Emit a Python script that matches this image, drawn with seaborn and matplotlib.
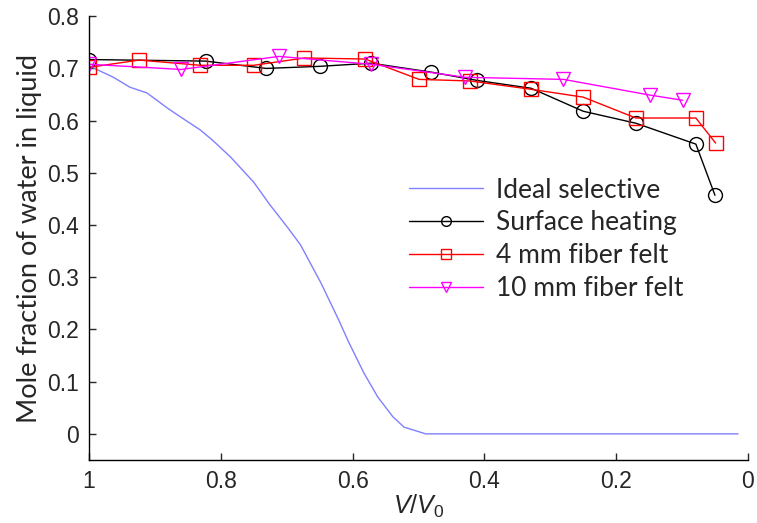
import matplotlib
matplotlib.use("Agg")
import matplotlib.pyplot as plt
import seaborn as sns
import pandas as pd

# Ideal selective (blue curve)
ideal_x = [1.0, 0.963, 0.938, 0.912, 0.881, 0.861, 0.831, 0.813, 0.785, 0.750, 0.725,
           0.699, 0.679, 0.648, 0.621, 0.606, 0.583, 0.562, 0.539, 0.522, 0.489, 0.015]
ideal_y = [0.705, 0.683, 0.664, 0.653, 0.624, 0.607, 0.582, 0.563, 0.530, 0.482, 0.438,
           0.396, 0.362, 0.289, 0.218, 0.176, 0.117, 0.071, 0.033, 0.013, 0.0, 0.0]

# Surface heating
surf_x = [1.0, 0.823, 0.731, 0.650, 0.572, 0.481, 0.411, 0.329, 0.250, 0.170, 0.079, 0.050]
surf_y = [0.717, 0.714, 0.700, 0.704, 0.710, 0.693, 0.677, 0.662, 0.618, 0.595, 0.555, 0.457]

# 4 mm fiber felt
felt4_x = [1.0, 0.924, 0.831, 0.750, 0.673, 0.581, 0.499, 0.422, 0.329, 0.250, 0.170, 0.079, 0.049]
felt4_y = [0.702, 0.716, 0.706, 0.706, 0.720, 0.718, 0.679, 0.676, 0.660, 0.645, 0.605, 0.605, 0.557]

# 10 mm fiber felt
felt10_x = [1.0, 0.860, 0.712, 0.572, 0.429, 0.280, 0.149, 0.099]
felt10_y = [0.708, 0.698, 0.723, 0.708, 0.683, 0.679, 0.649, 0.639]

labels = ["Ideal selective", "Surface heating", "4 mm fiber felt", "10 mm fiber felt"]

sns.set_style("white")
plt.rcParams['font.family'] = ['Liberation Sans', 'DejaVu Sans']
plt.rcParams['mathtext.fontset'] = 'custom'
plt.rcParams['mathtext.rm'] = 'Liberation Sans'
plt.rcParams['mathtext.it'] = 'Liberation Sans:italic'

fig = plt.figure(figsize=(7.57, 5.23), dpi=100)
ax = fig.add_axes([0.1176, 0.1205, 0.8704, 0.8485])

sns.lineplot(x=ideal_x, y=ideal_y, ax=ax, sort=False, color="#8080ff", lw=1.0,
             label=labels[0], estimator=None)
sns.lineplot(x=surf_x, y=surf_y, ax=ax, sort=False, color="black", lw=1.0,
             marker="o", markersize=10, markerfacecolor="none", markeredgecolor="black",
             markeredgewidth=1.0, label=labels[1], estimator=None)
sns.lineplot(x=felt4_x, y=felt4_y, ax=ax, sort=False, color="red", lw=1.0,
             marker="s", markersize=10, markerfacecolor="none", markeredgecolor="red",
             markeredgewidth=1.0, label=labels[2], estimator=None)
sns.lineplot(x=felt10_x, y=felt10_y, ax=ax, sort=False, color="magenta", lw=1.0,
             marker="v", markersize=10, markerfacecolor="none", markeredgecolor="magenta",
             markeredgewidth=1.0, label=labels[3], estimator=None)

ax.set_xlim(1, 0)
ax.set_ylim(-0.05, 0.8)
ax.set_xticks([1, 0.8, 0.6, 0.4, 0.2, 0])
ax.set_xticklabels(["1", "0.8", "0.6", "0.4", "0.2", "0"])
ax.set_yticks([0, 0.1, 0.2, 0.3, 0.4, 0.5, 0.6, 0.7, 0.8])
ax.set_yticklabels(["0", "0.1", "0.2", "0.3", "0.4", "0.5", "0.6", "0.7", "0.8"])
ax.tick_params(axis="both", direction="in", length=5, width=1, labelsize=16.5,
               left=True, bottom=True, pad=7)
for s in ["top", "right"]:
    ax.spines[s].set_visible(False)
for s in ["left", "bottom"]:
    ax.spines[s].set_color("black")
    ax.spines[s].set_linewidth(1.0)

ax.set_ylabel("Mole fraction of water in liquid", fontsize=19.5,
              family=["Lato", "DejaVu Sans"], labelpad=4)
ax.set_xlabel(r"$\mathit{V}/\mathit{V}_0$", fontsize=18, labelpad=0)

leg = ax.legend(loc="upper left", bbox_to_anchor=(0.45, 0.69), frameon=False,
                prop={"family": "Lato", "size": 19}, handlelength=2.8, labelspacing=0.3,
                handletextpad=0.5)
for h in leg.legend_handles:
    h.set_markersize(7)

fig.savefig("out.png", dpi=100)
